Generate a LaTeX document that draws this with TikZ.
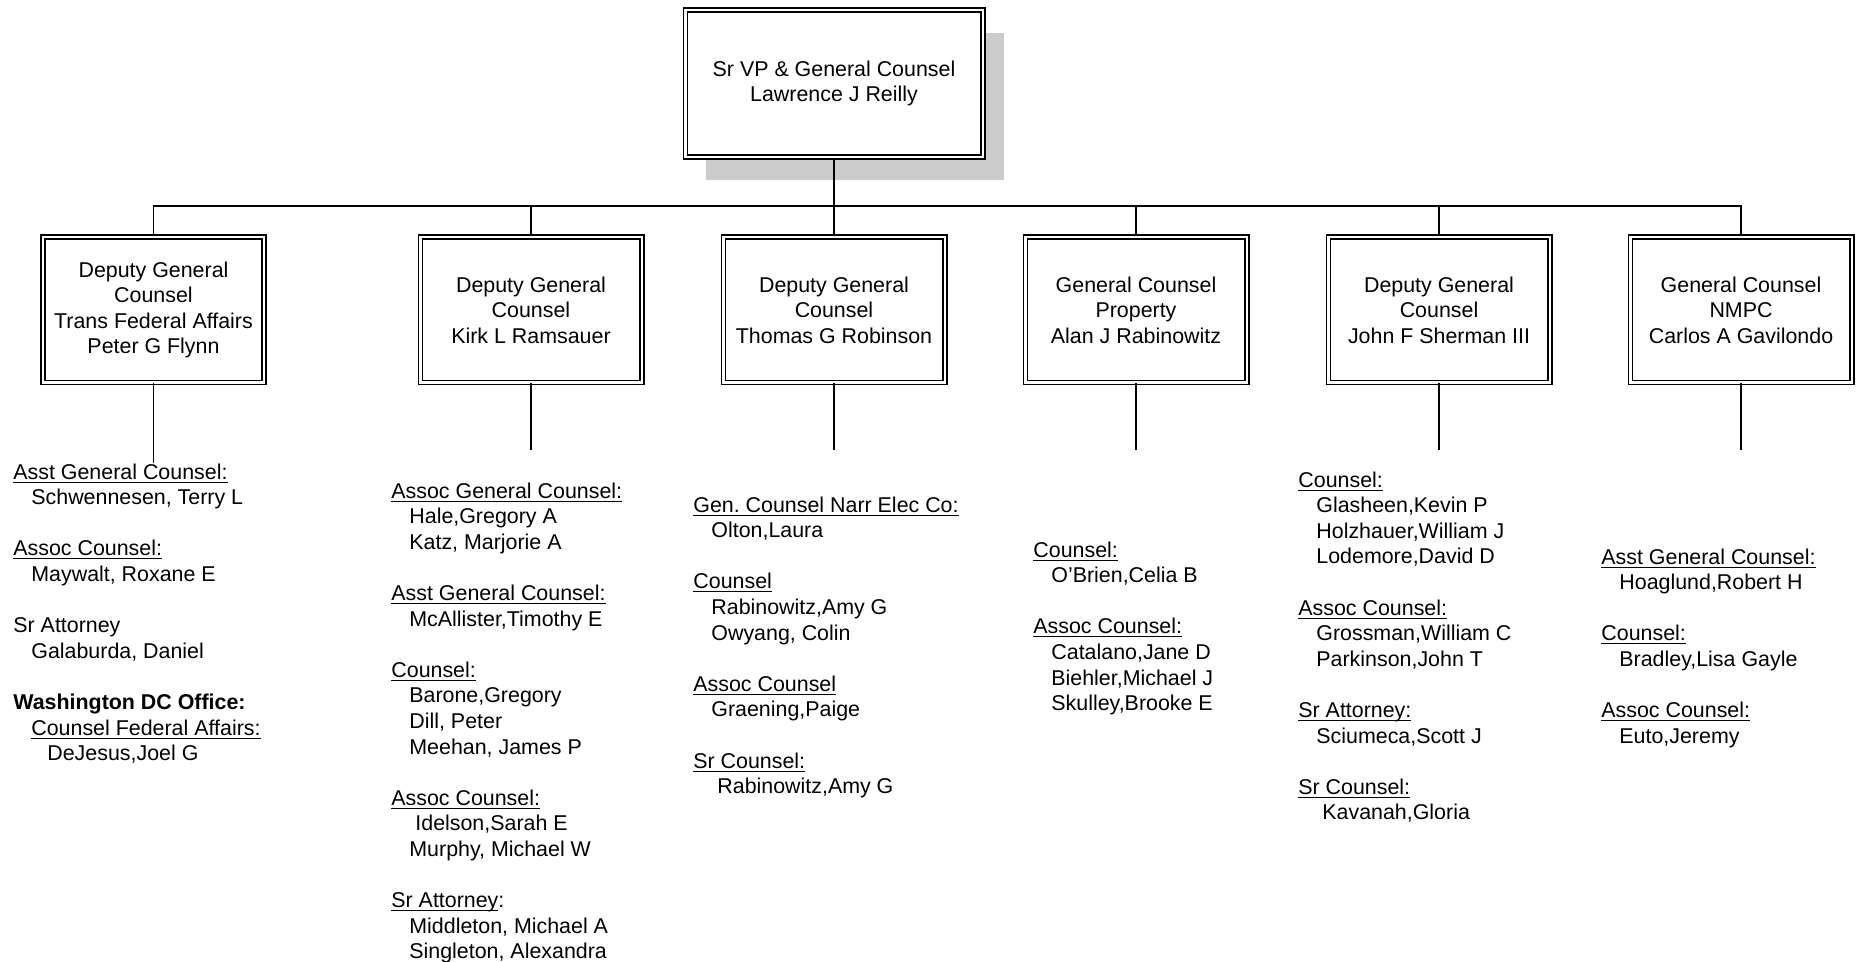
\documentclass[tikz,border=0pt]{standalone}
\usepackage{fontspec}
\setmainfont{Liberation Sans}
\usetikzlibrary{shadows}
\newcommand{\hd}[1]{\underline{\vphantom{A}\smash{#1}}}
\newcommand{\nm}{\hspace*{9pt}}
\begin{document}
\begin{tikzpicture}[
  x=0.5pt, y=-0.5pt,
  every node/.style={font=\fontsize{10.7}{12.8}\selectfont},
  box/.style={draw, double=white, line width=0.8pt, double distance=1.2pt, fill=white,
    align=center, inner sep=2pt, minimum width=110.7pt, minimum height=72.7pt},
  chief/.style={box, minimum width=148.7pt, minimum height=73.7pt,
    drop shadow={shadow xshift=10.5pt, shadow yshift=-11.5pt, fill=black!20, opacity=1}},
  staff/.style={anchor=north west, align=left, inner sep=0pt},
  link/.style={line width=0.8pt}
]
\useasboundingbox (0,0) rectangle (1858,962);

% top of the chart
\node[chief] (gc) at (834,83.5) {Sr VP \& General Counsel\\Lawrence J Reilly};

% second level
\node[box] (d1) at (153.5,310) {Deputy General\\Counsel\\Trans Federal Affairs\\Peter G Flynn};
\node[box] (d2) at (531,310) {Deputy General\\Counsel\\Kirk L Ramsauer};
\node[box] (d3) at (834,310) {Deputy General\\Counsel\\Thomas G Robinson};
\node[box] (d4) at (1136,310) {General Counsel\\Property\\Alan J Rabinowitz};
\node[box] (d5) at (1439,310) {Deputy General\\Counsel\\John F Sherman III};
\node[box] (d6) at (1741,310) {General Counsel\\NMPC\\Carlos A Gavilondo};

\coordinate (bus) at (0,206);
\draw[link] (gc) -- (d3);
\draw[link] (d1.north) -- (d1.north |- bus) -- (d6.north |- bus) -- (d6.north);
\foreach \n in {2,4,5}
  \draw[link] (d\n.north) -- (d\n.north |- bus);
\foreach \n/\e in {1/463,2/450,3/450,4/450,5/450,6/450}
  \draw[link] (d\n.south) -- (d\n.south |- 0,\e);

% staff lists
\node[staff] (c1) at (13,464) {\hd{Asst General Counsel:}\\
  \nm Schwennesen, Terry L\\[12.8pt]
  \hd{Assoc Counsel:}\\
  \nm Maywalt, Roxane E\\[12.8pt]
  Sr Attorney\\
  \nm Galaburda, Daniel\\[12.8pt]
  \textbf{Washington DC Office:}\\
  \nm\hd{Counsel Federal Affairs:}\\
  \hspace*{17pt}DeJesus,Joel G};
\node[staff] (c2) at (391,483) {\hd{Assoc General Counsel:}\\
  \nm Hale,Gregory A\\
  \nm Katz, Marjorie A\\[12.8pt]
  \hd{Asst General Counsel:}\\
  \nm McAllister,Timothy E\\[12.8pt]
  \hd{Counsel:}\\
  \nm Barone,Gregory\\
  \nm Dill, Peter\\
  \nm Meehan, James P\\[12.8pt]
  \hd{Assoc Counsel:}\\
  \hspace*{12pt}Idelson,Sarah E\\
  \nm Murphy, Michael W\\[12.8pt]
  \hd{Sr Attorney}:\\
  \nm Middleton, Michael A\\
  \nm Singleton, Alexandra};
\node[staff] (c3) at (693,497) {\hd{Gen.\ Counsel Narr Elec Co:}\\
  \nm Olton,Laura\\[12.8pt]
  \hd{Counsel}\\
  \nm Rabinowitz,Amy G\\
  \nm Owyang, Colin\\[12.8pt]
  \hd{Assoc Counsel}\\
  \nm Graening,Paige\\[12.8pt]
  \hd{Sr Counsel:}\\
  \hspace*{12pt}Rabinowitz,Amy G};
\node[staff] (c4) at (1033,542) {\hd{Counsel:}\\
  \nm O’Brien,Celia B\\[12.8pt]
  \hd{Assoc Counsel:}\\
  \nm Catalano,Jane D\\
  \nm Biehler,Michael J\\
  \nm Skulley,Brooke E};
\node[staff] (c5) at (1298,472) {\hd{Counsel:}\\
  \nm Glasheen,Kevin P\\
  \nm Holzhauer,William J\\
  \nm Lodemore,David D\\[12.8pt]
  \hd{Assoc Counsel:}\\
  \nm Grossman,William C\\
  \nm Parkinson,John T\\[12.8pt]
  \hd{Sr Attorney:}\\
  \nm Sciumeca,Scott J\\[12.8pt]
  \hd{Sr Counsel:}\\
  \hspace*{12pt}Kavanah,Gloria};
\node[staff] (c6) at (1601,549) {\hd{Asst General Counsel:}\\
  \nm Hoaglund,Robert H\\[12.8pt]
  \hd{Counsel:}\\
  \nm Bradley,Lisa Gayle\\[12.8pt]
  \hd{Assoc Counsel:}\\
  \nm Euto,Jeremy};
\end{tikzpicture}
\end{document}
